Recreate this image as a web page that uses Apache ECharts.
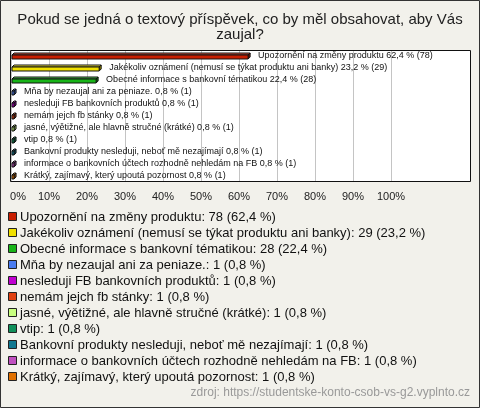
<!DOCTYPE html>
<html><head><meta charset="utf-8">
<script src="https://cdn.jsdelivr.net/npm/echarts@6/dist/echarts.min.js"></script>
<style>html,body{margin:0;padding:0;background:#f2f1eb}#c{width:480px;height:408px}</style>
</head><body><div id="c"></div>
<script>
const titleLines = ['Pokud se jedná o textový příspěvek, co by měl obsahovat, aby Vás', 'zaujal?'];
const categories = [
  'Upozornění na změny produktu',
  'Jakékoliv oznámení (nemusí se týkat produktu ani banky)',
  'Obecné informace s bankovní tématikou',
  'Mňa by nezaujal ani za peniaze.',
  'nesleduji FB bankovních produktů',
  'nemám jejch fb stánky',
  'jasné, výětižné, ale hlavně stručné (krátké)',
  'vtip',
  'Bankovní produkty nesleduji, neboť mě nezajímají',
  'informace o bankovních účtech rozhodně nehledám na FB',
  'Krátký, zajímavý, který upoutá pozornost'
];
const counts = [78, 29, 28, 1, 1, 1, 1, 1, 1, 1, 1];
const percents = [62.4, 23.2, 22.4, 0.8, 0.8, 0.8, 0.8, 0.8, 0.8, 0.8, 0.8];
const colors = ['#c81e00', '#f0e000', '#18b418', '#4a7cf0', '#c000d0', '#e04010', '#c8ff80', '#10905a', '#107890', '#c050c0', '#e07000'];
const xTicks = [0, 10, 20, 30, 40, 50, 60, 70, 80, 90, 100];
const sourceText = 'zdroj: https://studentske-konto-csob-vs-g2.vyplnto.cz';

const fmt = v => v.toFixed(1).replace('.', ',');
const barLabels = categories.map((c, i) => c + ' ' + fmt(percents[i]) + ' % (' + counts[i] + ')');
const legendLabels = categories.map((c, i) => c + ': ' + counts[i] + ' (' + fmt(percents[i]) + ' %)');

function shade(hex, f) {
  const n = parseInt(hex.slice(1), 16);
  let r = (n >> 16) & 255, g = (n >> 8) & 255, b = n & 255;
  const m = x => Math.max(0, Math.min(255, Math.round(f > 0 ? x + (255 - x) * f : x * (1 + f))));
  return 'rgb(' + m(r) + ',' + m(g) + ',' + m(b) + ')';
}

const chart = echarts.init(document.getElementById('c'), null, {renderer: 'canvas'});

const legendEls = [];
legendLabels.forEach((t, i) => {
  const yc = 217 + i * 16;
  legendEls.push({type: 'rect', shape: {x: 8.5, y: yc - 4.5, width: 8, height: 8},
    style: {fill: colors[i], stroke: '#222', lineWidth: 1}});
  legendEls.push({type: 'text', x: 20, y: yc, style: {text: t, font: '13px "Liberation Sans", Arial, sans-serif',
    fill: '#111', textVerticalAlign: 'middle', textBaseline: 'middle'}});
});

const titleStyle = {fontFamily: '"Liberation Sans", Arial, sans-serif', fontSize: 15, fontWeight: 'normal', color: '#222'};

chart.setOption({
  backgroundColor: '#f2f1eb',
  animation: false,
  title: titleLines.map((t, i) => ({text: t, left: 'center', top: 12 + i * 15, padding: 0, textStyle: titleStyle})),
  grid: {left: 11, right: 89, top: 50, bottom: 226},
  xAxis: {
    type: 'value', min: xTicks[0], max: xTicks[xTicks.length - 1], interval: 10,
    axisLine: {show: false}, axisTick: {show: false},
    splitLine: {show: true, lineStyle: {color: '#c4c4c4', width: 1}},
    axisLabel: {
      formatter: v => v === 0 ? '{z|0%}' : v + '%',
      rich: {z: {padding: [0, 0, 0, 14], fontSize: 11, color: '#222'}},
      align: 'center',
      margin: 9, color: '#222', fontSize: 11, fontFamily: '"Liberation Sans", Arial, sans-serif'
    }
  },
  yAxis: {
    type: 'category', data: categories, inverse: true,
    axisLine: {show: false}, axisTick: {show: false}, axisLabel: {show: false}, splitLine: {show: false}
  },
  graphic: {elements: [
    {type: 'rect', z: -100, shape: {x: 10.5, y: 50.5, width: 460, height: 131}, style: {fill: '#ffffff', stroke: 'none'}},
    {type: 'rect', z: 100, shape: {x: 10.5, y: 50.5, width: 460, height: 131}, style: {fill: 'none', stroke: '#111', lineWidth: 1}},
    {type: 'rect', z: 100, shape: {x: 0.5, y: 0.5, width: 479, height: 407}, style: {fill: 'none', stroke: '#333', lineWidth: 1}},
    {type: 'group', children: legendEls},
    {type: 'text', right: 10, top: 387, style: {text: sourceText, font: '12px "Liberation Sans", Arial, sans-serif', fill: '#999'}}
  ]},
  series: [{
    type: 'custom',
    clip: false,
    data: percents.map((p, i) => [p, i]),
    renderItem: function (params, api) {
      const i = api.value(1);
      const s = api.coord([0, i]);
      const e = api.coord([api.value(0), i]);
      const h = 4, d = 2;
      const x0 = s[0] + 1, x1 = Math.max(e[0], x0 + 2);
      const yTop = s[1] - h / 2 + 1, yBot = yTop + h;
      const c = colors[i];
      return {type: 'group', children: [
        {type: 'polygon', shape: {points: [[x0, yTop], [x0 + d, yTop - d], [x1 + d, yTop - d], [x1, yTop]]},
          style: {fill: shade(c, 0.25), stroke: '#111', lineWidth: 1}},
        {type: 'polygon', shape: {points: [[x1, yTop], [x1 + d, yTop - d], [x1 + d, yBot - d], [x1, yBot]]},
          style: {fill: shade(c, -0.35), stroke: '#111', lineWidth: 1}},
        {type: 'rect', shape: {x: x0, y: yTop, width: x1 - x0, height: h},
          style: {fill: c, stroke: '#111', lineWidth: 1}},
        {type: 'text', x: x1 + d + 8, y: s[1],
          style: {text: barLabels[i], font: '9px "Liberation Sans", Arial, sans-serif', fill: '#111', textVerticalAlign: 'middle', textBaseline: 'middle'}}
      ]};
    }
  }]
});
</script></body></html>
